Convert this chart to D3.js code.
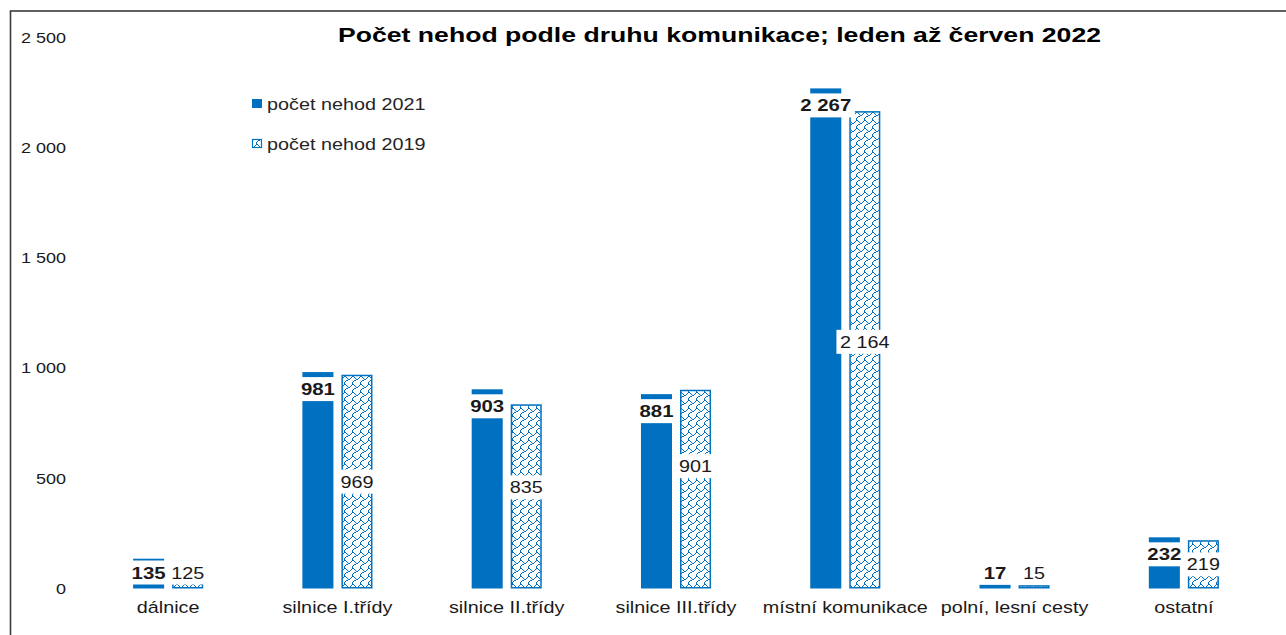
<!DOCTYPE html>
<html>
<head>
<meta charset="utf-8">
<script src="https://cdn.jsdelivr.net/npm/d3@7"></script>
<style>
  html, body { margin: 0; padding: 0; background: #fff; }
  svg { display: block; font-family: "Liberation Sans", Arial, sans-serif; }
</style>
</head>
<body>
<div id="chart"></div>
<script>
// data
const categories = ["dálnice", "silnice I.třídy", "silnice II.třídy", "silnice III.třídy",
                    "místní komunikace", "polní, lesní cesty", "ostatní"];
const nehody2021 = [135, 981, 903, 881, 2267, 17, 232];
const nehody2019 = [125, 969, 835, 901, 2164, 15, 219];
const yTicks = [0, 500, 1000, 1500, 2000, 2500];
const seriesNames = ["počet nehod 2021", "počet nehod 2019"];
const title = "Počet nehod podle druhu komunikace; leden až červen 2022";

// the 2019 labels were dragged around a bit in the original
const nudge2019 = [0, 0, -9, -23, -8, 0, 0];

const W = 1286, H = 635;
const blue = "#0070c0";
const sx = 1.2; // the original picture is stretched horizontally

const svg = d3.select("#chart").append("svg")
    .attr("width", W)
    .attr("height", H);

// shingle pattern, 8x8 bitmap like the office one
const shingle = [
    "11000000",
    "00100001",
    "00010010",
    "00001100",
    "00110000",
    "01000000",
    "10000000",
    "10000000"
];
const defs = svg.append("defs");
const pat = defs.append("pattern")
    .attr("id", "scales")
    .attr("patternUnits", "userSpaceOnUse")
    .attr("width", 8)
    .attr("height", 8);
pat.append("rect").attr("width", 8).attr("height", 8).attr("fill", "#fff");
shingle.forEach((row, r) => {
    row.split("").forEach((c, k) => {
        if (c === "1") {
            pat.append("rect")
                .attr("x", k).attr("y", r)
                .attr("width", 1).attr("height", 1)
                .attr("fill", blue);
        }
    });
});

// frame (only top and left edges are inside the picture)
svg.append("rect")
    .attr("x", 10.5).attr("y", 11)
    .attr("width", 1400).attr("height", 800)
    .attr("fill", "none")
    .attr("stroke", "#3a3a3a")
    .attr("stroke-width", 1.6);

const y = d3.scaleLinear().domain([0, 2500]).range([588.5, 37]);

const x0 = d3.scaleBand()
    .domain(categories)
    .range([83.5, 1268.5])
    .paddingInner(0.586)
    .paddingOuter(0.293);

const x1 = d3.scaleBand()
    .domain([0, 1])
    .range([0, x0.bandwidth()])
    .paddingInner(0.205);

const fmt = v => d3.format(",")(v).replace(/,/g, " ");

// stretched text helper
function label(parent, x, yy, str, opts = {}) {
    const g = parent.append("g")
        .attr("transform", `translate(${x},${yy}) scale(${opts.sx || sx},1)`);
    const t = g.append("text")
        .attr("text-anchor", opts.anchor || "middle")
        .attr("font-size", opts.size || 16.5)
        .attr("font-weight", opts.bold ? "bold" : "normal")
        .attr("fill", opts.color || "#1a1a1a")
        .text(str);
    if (opts.box) {
        const bb = t.node().getBBox();
        g.insert("rect", "text")
            .attr("x", bb.x - 3)
            .attr("y", opts.boxTop)
            .attr("width", bb.width + 6)
            .attr("height", 24)
            .attr("fill", "#fff");
    }
    return g;
}

// y axis labels
const yAxis = svg.append("g").attr("class", "y-axis");
yTicks.forEach(v => {
    label(yAxis, 66, y(v) + 5.5, fmt(v), {anchor: "end", size: 15});
});

// bars
const bars = svg.append("g").attr("class", "bars");
bars.selectAll("rect.b2021")
    .data(nehody2021)
    .enter().append("rect")
    .attr("class", "b2021")
    .attr("x", (d, i) => x0(categories[i]) + x1(0))
    .attr("y", d => y(d))
    .attr("width", x1.bandwidth())
    .attr("height", d => y(0) - y(d))
    .attr("fill", blue);

bars.selectAll("rect.b2019")
    .data(nehody2019)
    .enter().append("rect")
    .attr("class", "b2019")
    .attr("x", (d, i) => x0(categories[i]) + x1(1) + 0.75)
    .attr("y", d => y(d) + 0.75)
    .attr("width", x1.bandwidth() - 1.5)
    .attr("height", d => Math.max(0, y(0) - y(d) - 1.5))
    .attr("fill", "url(#scales)")
    .attr("stroke", blue)
    .attr("stroke-width", 1.5);

// data labels
const labels = svg.append("g").attr("class", "labels");
nehody2021.forEach((d, i) => {
    const cx = x0(categories[i]) + x1(0) + x1.bandwidth() / 2;
    const cy = Math.min(y(d) + 17, y(0) - 16);
    label(labels, cx, cy + 6, fmt(d), {bold: true, size: 17, box: true, boxTop: -18});
});
nehody2019.forEach((d, i) => {
    const cx = x0(categories[i]) + x1(1) + x1.bandwidth() / 2;
    const mid = (y(d) + y(0)) / 2 + nudge2019[i];
    const cy = Math.min(mid, y(0) - 16);
    label(labels, cx, cy + 6, fmt(d), {box: true, boxTop: -18});
});

// category labels
const xAxis = svg.append("g").attr("class", "x-axis");
categories.forEach(c => {
    label(xAxis, x0(c) + x0.bandwidth() / 2, 613, c, {size: 16.5});
});

// title
svg.append("text")
    .attr("x", 719.5)
    .attr("y", 42)
    .attr("text-anchor", "middle")
    .attr("font-size", 21)
    .attr("font-weight", "bold")
    .attr("fill", "#000")
    .attr("textLength", 763)
    .attr("lengthAdjust", "spacingAndGlyphs")
    .text(title);

// legend
const legend = svg.append("g").attr("class", "legend");
legend.append("rect")
    .attr("x", 252).attr("y", 99)
    .attr("width", 10).attr("height", 9)
    .attr("fill", blue);
legend.append("rect")
    .attr("x", 252.5).attr("y", 139.5)
    .attr("width", 9).attr("height", 8)
    .attr("fill", "url(#scales)")
    .attr("stroke", blue)
    .attr("stroke-width", 1.2);
label(legend, 267, 110, seriesNames[0], {anchor: "start", size: 16.5, color: "#262626"});
label(legend, 267, 150, seriesNames[1], {anchor: "start", size: 16.5, color: "#262626"});
</script>
</body>
</html>
